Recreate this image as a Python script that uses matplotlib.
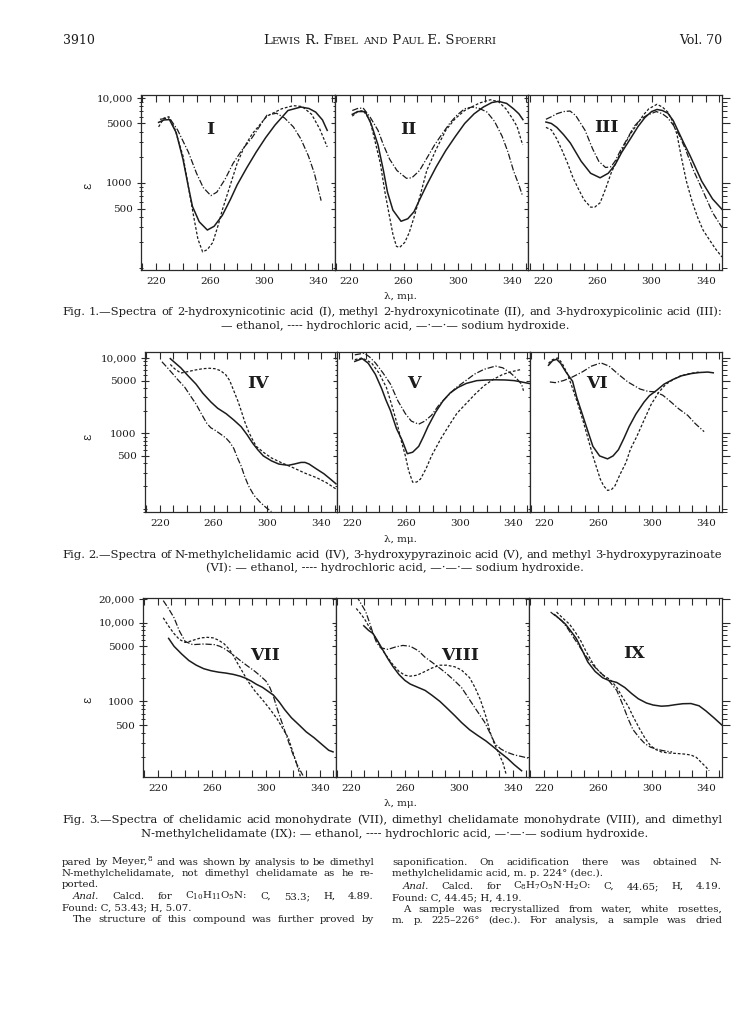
import numpy as np
import matplotlib
matplotlib.use("Agg")
import matplotlib.pyplot as plt
from matplotlib.ticker import FixedLocator, FuncFormatter, LogLocator, MultipleLocator, NullFormatter

plt.rcParams['font.family'] = ['DejaVu Serif']
plt.rcParams['mathtext.fontset'] = 'dejavuserif'

W, H = 748, 1016

# (wavelength in mμ, ε); eth = ethanol, hcl = HCl, naoh = NaOH
I_eth = [(222, 5150), (226, 5500), (230, 5550), (235, 3900), (240, 1900), (244, 900), (247, 530), (252, 350),
         (258, 280), (263, 310), (269, 415), (275, 640), (280, 950), (287, 1500), (294, 2300), (301, 3400),
         (308, 4800), (317.5, 7100), (327, 7800), (333, 7500), (338, 6800), (343, 5500), (346.5, 4150)]
I_hcl = [(222, 4560), (226, 5800), (229.6, 6000), (234, 4300), (240, 2080), (244, 900), (248, 395), (251, 220),
         (254.5, 155), (258, 165), (262, 200), (266, 320), (269, 480), (274, 850), (280, 1700), (285, 2600),
         (291, 3750), (302, 6100), (313, 7450), (321.5, 8100), (328, 7900), (335, 6400), (341, 4300), (346.5, 2650)]
I_naoh = [(223, 5600), (230, 5800), (236, 4200), (244, 2300), (250, 1300), (255, 880), (260.6, 710), (265, 780),
          (271, 1100), (277, 1700), (284, 2500), (291, 3400), (302, 6250), (309, 6600), (315, 5800), (321.5, 4560),
          (327, 3300), (332.6, 2080), (337, 1300), (342, 620)]

II_eth = [(222, 6400), (226, 6900), (231.6, 6900), (236, 4900), (241, 2800), (245, 1400), (248, 780), (252, 480),
          (258, 355), (263, 380), (267.6, 460), (272, 650), (277, 950), (284, 1550), (291, 2400), (298, 3500),
          (305, 5000), (312, 6500), (318.8, 7800), (325, 8800), (330, 9100), (336, 8600), (341, 7450), (345, 6500),
          (348, 5550)]
II_hcl = [(222, 6100), (226, 6900), (230, 7100), (235, 5500), (238, 3500), (242.7, 1700), (246, 800), (249.6, 395),
          (252, 250), (254.6, 180), (257, 175), (260.7, 200), (264, 260), (267.6, 395), (272, 700), (277, 1400),
          (284, 2500), (291, 4150), (298, 5700), (305, 7100), (316, 8700), (324, 9500), (330, 9000), (335.4, 7450),
          (340, 5800), (343.7, 4600), (347.8, 2800)]
II_naoh = [(222, 7100), (226, 7500), (230, 7600), (235, 6000), (241, 4150), (245, 2800), (249.6, 1900), (255, 1400),
           (262, 1135), (266, 1150), (271.7, 1400), (277, 1950), (282.8, 2800), (288, 3700), (293.9, 5000),
           (299, 6200), (305, 7450), (310.5, 7800), (316, 7500), (321.5, 6800), (327, 5300), (332.6, 3550),
           (337, 2300), (341, 1400), (345, 950), (347.8, 700)]

III_eth = [(222, 5200), (226, 5000), (230, 4500), (235, 3700), (240, 2950), (248, 1800), (255, 1300), (262, 1150),
           (268, 1300), (273, 1630), (278, 2300), (284, 3240), (290, 4600), (295, 5850), (300, 6900), (304, 7300),
           (308, 7100), (312, 6600), (316, 5400), (320, 3950), (324, 2900), (328.5, 2080), (333, 1450),
           (337, 1050), (345, 650), (352, 490)]
III_hcl = [(222, 4500), (226, 4200), (230, 3300), (234, 2400), (238, 1700), (242, 1150), (246, 850), (250, 640),
           (255, 520), (258, 520), (262, 585), (266, 850), (270, 1290), (274, 1800), (278.6, 2530), (284, 3700),
           (289.7, 5000), (294, 6300), (298, 7450), (304, 8400), (308, 7800), (312, 6800), (315, 5500),
           (318.7, 3750), (322, 2000), (325.7, 1050), (330, 600), (334, 395), (338, 280), (342.3, 220), (347, 170),
           (352, 135)]
III_naoh = [(222, 5600), (226, 6000), (230, 6500), (235, 6900), (239.8, 7000), (244, 6200), (250.9, 4150),
            (256.4, 2530), (261, 1800), (266, 1520), (270, 1550), (273, 1800), (277, 2400), (282, 3300),
            (287, 4600), (292, 5600), (296.6, 6250), (303.5, 6900), (308, 6500), (311.8, 5850), (316, 4800),
            (320, 3750), (325, 2500), (331, 1400), (338, 800), (345, 450), (352, 300)]

IV_eth = [(227.8, 9800), (235.6, 7400), (241, 5800), (246.9, 4500), (252, 3400), (258, 2600), (263, 2150),
          (269.3, 1820), (275, 1500), (280.5, 1220), (285, 950), (289, 740), (293, 600), (297, 500), (303, 430),
          (308.5, 390), (315.5, 375), (320, 390), (325, 410), (328, 410), (331, 390), (336, 340), (342, 290),
          (347, 245), (351, 213)]
IV_hcl = [(227.8, 8200), (231, 7200), (235.6, 6300), (241, 6600), (246, 6900), (252, 7200), (257, 7300),
          (261, 7200), (265, 6800), (269, 6000), (272, 5000), (275, 3670), (278, 2700), (280.5, 2000), (283, 1450),
          (286, 1050), (289, 820), (291.7, 670), (297, 560), (303, 470), (310, 410), (319.7, 345), (328, 295),
          (336.6, 257), (344, 220), (351, 182)]
IV_naoh = [(221.6, 8900), (226, 7300), (230, 6050), (234, 5000), (238.5, 4100), (243, 3100), (246.9, 2450),
           (251, 1800), (255, 1350), (258, 1180), (261, 1100), (265, 980), (269.3, 860), (272, 760), (275, 630),
           (278, 460), (280.5, 367), (283, 270), (286, 200), (290, 150), (294.5, 122), (299, 103), (303, 91)]

V_eth = [(222, 9000), (227.5, 9800), (232, 8500), (237.3, 6050), (242, 3900), (245, 2800), (248.5, 2000),
         (253, 1150), (257, 820), (261, 535), (265, 560), (269.5, 670), (273, 900), (276.4, 1230), (282, 1900),
         (287.6, 2700), (293, 3450), (298.8, 4070), (305, 4600), (312.7, 5000), (320, 5100), (326.6, 5130),
         (334, 5100), (340.6, 5000), (346, 4800), (351.7, 4580)]
V_hcl = [(222, 9500), (227.4, 10000), (234.4, 8600), (240, 6300), (245.5, 4050), (250, 2200), (254, 1230),
         (256.5, 800), (259.6, 500), (262, 320), (265, 224), (268, 225), (270.8, 246), (275, 340), (279, 500),
         (286, 850), (293, 1350), (298, 1850), (304.5, 2450), (311, 3250), (318, 4270), (325, 5200), (332, 6050),
         (339, 6600), (346, 7060)]
V_naoh = [(222, 11000), (229, 11600), (233, 10300), (237.3, 8600), (243, 6300), (248.5, 4500), (254, 2700),
          (259.6, 1820), (264, 1450), (269.5, 1320), (274, 1450), (279, 1730), (284, 2300), (290, 3000),
          (297, 4000), (304.5, 5000), (311, 6100), (318, 7060), (326.6, 7800), (332, 7400), (337.6, 6350),
          (342, 5400), (346, 4480), (347.4, 3670)]

VI_eth = [(223, 8000), (226, 9200), (229, 9600), (232, 8500), (236, 6500), (240.9, 4900), (244, 3000), (248, 1820),
          (252, 1100), (256, 670), (261, 500), (266.9, 457), (271, 500), (275, 605), (279, 850), (283, 1230),
          (288, 1800), (294, 2590), (298, 3150), (303.5, 3730), (309, 4500), (315.7, 5200), (322, 5800),
          (329, 6200), (335, 6400), (341.4, 6500), (345.5, 6350)]
VI_hcl = [(223, 8500), (226, 9500), (229.8, 10000), (233, 8600), (237, 6200), (241, 3900), (245, 2400),
          (249, 1400), (252, 900), (256, 500), (261.5, 246), (264, 200), (267, 174), (270, 180), (272.4, 200),
          (276, 280), (280.6, 408), (284, 620), (288.7, 910), (294, 1490), (299.5, 2450), (305, 3500),
          (310.3, 4480), (316, 5200), (321, 5770), (328, 6200), (334.6, 6500)]
VI_naoh = [(224, 4800), (228, 4700), (234, 5000), (240, 5500), (248, 6500), (255, 7800), (262, 8600), (268, 7800),
           (275, 6060), (282, 4800), (291, 3870), (297, 3600), (302, 3550), (308, 3200), (313, 2700), (320, 2100),
           (326.5, 1730), (332, 1350), (338.7, 1050)]

VII_eth = [(228, 6300), (232, 5000), (237.6, 4000), (243, 3300), (248.5, 2880), (254, 2600), (259.4, 2450),
           (265, 2350), (270.3, 2290), (276, 2200), (281, 2090), (285, 1970), (289, 1820), (293, 1650),
           (297.5, 1510), (301, 1370), (305.7, 1200), (310, 980), (313.9, 790), (319, 620), (324.8, 500),
           (330, 410), (335.7, 347), (341, 290), (346.6, 240), (349.8, 229)]
VII_hcl = [(224, 11500), (228, 9000), (232, 7240), (236, 6100), (240.3, 5600), (244, 5800), (248.5, 6150),
           (252, 6400), (256.7, 6500), (261, 6400), (264.8, 6000), (269, 5400), (273, 4570), (276, 3800),
           (278.5, 3160), (282, 2500), (286.6, 1820), (292, 1350), (297.5, 1050), (303, 800), (308.4, 600),
           (312, 470), (316.6, 347), (320, 230), (324.8, 126), (326, 105)]
VII_naoh = [(224, 19000), (228, 15000), (232, 11500), (236, 7800), (240.3, 5750), (245.8, 5250), (250, 5300),
            (254, 5350), (258, 5300), (262, 5250), (266, 5000), (270.3, 4570), (275, 4000), (281, 3310),
            (286, 2850), (292, 2400), (296, 2100), (300, 1820), (303, 1500), (305.7, 1150), (308, 850), (311, 600),
            (315, 380), (319, 240), (323, 160), (327.5, 115)]

VIII_eth = [(229.6, 9100), (233, 8000), (236.5, 7240), (240, 5800), (244, 4400), (247.5, 3470), (251, 2800),
            (255.7, 2190), (260, 1850), (264, 1660), (270, 1500), (275, 1380), (280, 1200), (286, 1000), (291, 830),
            (297, 660), (302, 540), (308, 437), (314, 370), (320, 316), (325, 270), (330, 229), (336, 190),
            (341, 158), (346.5, 132)]
VIII_hcl = [(224, 15100), (228, 12500), (231, 10500), (236.5, 7240), (240, 5600), (244.7, 4170), (250, 3100),
            (255.7, 2400), (260, 2150), (264, 2090), (269, 2150), (275, 2400), (280, 2650), (286, 2880),
            (291, 2880), (297, 2750), (302, 2500), (308, 2000), (312, 1500), (316, 1050), (320, 650), (323, 417),
            (326, 300), (328.6, 240), (332.7, 166), (335, 120)]
VIII_naoh = [(224, 22000), (227, 18000), (231, 13800), (234, 9800), (236.5, 7240), (239, 5600), (242, 4790),
             (247.5, 4570), (253, 4900), (258.5, 5130), (264, 5010), (270, 4400), (275, 3630), (280, 3150),
             (286, 2630), (291, 2250), (297, 1820), (302, 1500), (308, 1050), (313, 780), (319, 550), (323, 400),
             (327, 288), (331, 250), (335, 229), (341, 210), (346.5, 200), (352, 190)]

IX_eth = [(228, 12600), (232, 11000), (236, 9550), (240, 7800), (244, 6300), (248, 4600), (252.6, 3160),
          (258, 2400), (263.5, 2000), (268, 1850), (274, 1740), (280, 1500), (285, 1260), (290, 1080), (296, 955),
          (301, 900), (307, 870), (312, 880), (318, 912), (323, 935), (329, 940), (335, 880), (340, 760),
          (346, 620), (352, 500)]
IX_hcl = [(229.4, 13600), (234, 11400), (239, 9550), (243, 7700), (247, 6030), (251, 4400), (256, 3100),
          (260, 2500), (264, 2150), (269, 1900), (274, 1510), (278, 1150), (282.5, 870), (286, 650), (290.7, 457),
          (295, 340), (299, 275), (303, 245), (307, 229), (312, 222), (318, 219), (324, 215), (329, 209),
          (333, 195), (337, 166), (340, 148), (342.5, 132)]
IX_naoh = [(225, 13600), (229, 12000), (233.5, 10500), (237.5, 8500), (241.7, 6600), (247, 4800), (252.6, 3470),
           (258, 2700), (263.5, 2190), (268, 1850), (274, 1380), (278, 950), (282.5, 600), (286, 440),
           (290.7, 347), (295, 290), (299, 263), (303, 250), (307, 240), (311, 233), (315, 229)]

panel_names = ["I", "II", "III", "IV", "V", "VI", "VII", "VIII", "IX"]
x_ticklabels = [220, 260, 300, 340]
y_ticks_12 = [500, 1000, 5000, 10000]
y_ticks_3 = [500, 1000, 5000, 10000, 20000]

STYLES = {
    'eth': dict(ls='-', lw=1.1),
    'hcl': dict(ls=(0, (2.2, 1.5)), lw=0.9),
    'naoh': dict(ls=(0, (5, 1.5, 1, 1.5)), lw=0.9),
}
INK = '#1c1c1c'

fig = plt.figure(figsize=(W / 100, H / 100), dpi=100)
renderer = fig.canvas.get_renderer()


def ftext(x, y, s, **kw):
    kw.setdefault('color', INK)
    return fig.text(x / W, 1 - y / H, s, **kw)


def runs(x, y, parts, ha='left', **kw):
    # draw consecutive pieces of text (each with its own size/style) on one baseline
    arts = [ftext(0, y, s, va='baseline', **{**kw, **p}) for s, p in parts]
    widths = [a.get_window_extent(renderer).width for a in arts]
    if ha == 'center':
        x = x - sum(widths) / 2
    for a, w in zip(arts, widths):
        a.set_x(x / W)
        x += w


def natural_size(x0, x1, line, base=8.0):
    # font size at which the line, set with ordinary spaces, fills x0..x1
    t = ftext(0, 0, line, fontsize=base)
    w = t.get_window_extent(renderer).width
    t.remove()
    return base * (x1 - x0) / w


def justify(x0, x1, y, line, size, italic=("Anal.",)):
    words = line.split()
    arts = [ftext(0, y, w, va='baseline', fontsize=size,
                  style='italic' if w in italic else 'normal') for w in words]
    widths = [a.get_window_extent(renderer).width for a in arts]
    gap = (x1 - x0 - sum(widths)) / max(len(words) - 1, 1)
    x = x0
    for a, w in zip(arts, widths):
        a.set_x(x / W)
        x += w + gap


def smallcaps(s, big, small):
    parts = []
    for ch in s:
        size = big if (ch.isupper() or not ch.isalpha()) else small
        if parts and parts[-1][1]['fontsize'] == size:
            parts[-1] = (parts[-1][0] + ch.upper(), parts[-1][1])
        else:
            parts.append((ch.upper(), dict(fontsize=size)))
    return parts


def y_fmt(v, _):
    return f"{int(v):,}" if v >= 10000 else f"{int(v)}"


def make_row(x0, x1, y0, y1, ylim, yticks, curves, names, label_pos):
    pw = (x1 - x0) / 3
    axes = []
    for i in range(3):
        ax = fig.add_axes([(x0 + i * pw) / W, 1 - y1 / H, pw / W, (y1 - y0) / H])
        ax.set_yscale('log')
        ax.set_xlim(209, 352)
        ax.set_ylim(*ylim)
        for key, pts in zip(('eth', 'hcl', 'naoh'), curves[i]):
            wl, eps = zip(*pts)
            ax.plot(wl, eps, color=INK, **STYLES[key])
        for sp in ax.spines.values():
            sp.set_linewidth(0.9)
            sp.set_color('#2a2a2a')
        ax.xaxis.set_major_locator(FixedLocator(x_ticklabels))
        ax.xaxis.set_minor_locator(MultipleLocator(10))
        ax.tick_params(axis='x', which='both', direction='in', top=True, bottom=True,
                       length=5, width=0.8, color='#2a2a2a', labelsize=7.5, pad=5, labelcolor=INK)
        ax.yaxis.set_major_locator(FixedLocator(yticks))
        ax.yaxis.set_major_formatter(FuncFormatter(y_fmt))
        ax.yaxis.set_minor_locator(LogLocator(base=10, subs=np.arange(1, 10)))
        ax.yaxis.set_minor_formatter(NullFormatter())
        ax.tick_params(axis='y', which='major', length=6, width=0.8, color='#2a2a2a', labelsize=7.5,
                       pad=3, labelcolor=INK)
        ax.tick_params(axis='y', which='minor', length=3.5, width=0.7, color='#2a2a2a')
        if i == 0:
            ax.tick_params(axis='y', which='both', left=True, labelleft=True, direction='in')
        else:
            ax.tick_params(axis='y', which='both', left=False, labelleft=False)
        if i < 2:
            ax.tick_params(axis='y', which='both', right=True, direction='inout')
        else:
            ax.tick_params(axis='y', which='both', right=True)
        lx, ly = label_pos[i]
        ftext(lx, ly, names[i], fontsize=12.5, fontweight='bold', ha='center', va='center')
        axes.append(ax)
    return axes


# header
ftext(63, 44, "3910", fontsize=9, va='baseline')
runs(380, 44, smallcaps("Lewis R. Fibel and Paul E. Spoerri", 9.5, 7.4), ha='center')
ftext(722, 44, "Vol. 70", fontsize=9, va='baseline', ha='right')

make_row(141, 722, 95, 270, (95, 10800), y_ticks_12,
         [(I_eth, I_hcl, I_naoh), (II_eth, II_hcl, II_naoh), (III_eth, III_hcl, III_naoh)],
         panel_names[0:3], [(210, 129), (408, 129), (606, 127)])
make_row(145, 722, 352, 512, (90, 12000), y_ticks_12,
         [(IV_eth, IV_hcl, IV_naoh), (V_eth, V_hcl, V_naoh), (VI_eth, VI_hcl, VI_naoh)],
         panel_names[3:6], [(258, 383), (414, 383), (597, 383)])
make_row(143, 722, 598, 777, (110, 20500), y_ticks_3,
         [(VII_eth, VII_hcl, VII_naoh), (VIII_eth, VIII_hcl, VIII_naoh), (IX_eth, IX_hcl, IX_naoh)],
         panel_names[6:9], [(265, 655), (460, 655), (634, 654)])

# ε axis labels and λ labels
for yy in (186, 437, 700):
    ftext(88, yy, "ε", fontsize=8.5, rotation=90, ha='center', va='center')
for yy in (297, 540, 804):
    ftext(400, yy, "λ, mμ.", fontsize=7.5, ha='center', va='center')

legend_line = "— ethanol, ---- hydrochloric acid, —·—·— sodium hydroxide."
cap1 = ("Fig. 1.—Spectra of 2-hydroxynicotinic acid (I), methyl 2-hydroxynicotinate (II), "
        "and 3-hydroxypicolinic acid (III):")
cap2 = ("Fig. 2.—Spectra of N-methylchelidamic acid (IV), 3-hydroxypyrazinoic acid (V), "
        "and methyl 3-hydroxypyrazinoate")
cap3 = ("Fig. 3.—Spectra of chelidamic acid monohydrate (VII), dimethyl chelidamate "
        "monohydrate (VIII), and dimethyl")
CAP = min(natural_size(62, 722, c) for c in (cap1, cap2, cap3))
justify(62, 722, 315, cap1, CAP)
ftext(395, 329, legend_line, fontsize=CAP, ha='center', va='baseline')
justify(62, 722, 558, cap2, CAP)
ftext(395, 571, "(VI): " + legend_line, fontsize=CAP, ha='center', va='baseline')
justify(62, 722, 823, cap3, CAP)
ftext(395, 837, "N-methylchelidamate (IX): " + legend_line, fontsize=CAP, ha='center', va='baseline')

# body text, two columns
lx0, lx1, rx0, rx1 = 62, 374, 392, 722
left_full = [r"pared by Meyer,$^{8}$ and was shown by analysis to be dimethyl",
             "N-methylchelidamate, not dimethyl chelidamate as he re-"]
right_full = ["saponification. On acidification there was obtained N-",
              "m. p. 225–226° (dec.). For analysis, a sample was dried"]
BODY = min([natural_size(lx0, lx1, s) for s in left_full] + [natural_size(rx0, rx1, s) for s in right_full])
justify(lx0, lx1, 865, left_full[0], BODY)
justify(lx0, lx1, 876, left_full[1], BODY)
ftext(lx0, 887, "ported.", fontsize=BODY, va='baseline')
justify(lx0 + 11, lx1, 899, r"Anal.  Calcd. for C$_{10}$H$_{11}$O$_{5}$N:  C, 53.3;  H, 4.89.", BODY)
ftext(lx0, 910, "Found: C, 53.43; H, 5.07.", fontsize=BODY, va='baseline')
justify(lx0 + 11, lx1, 922, "The structure of this compound was further proved by", BODY)

justify(rx0, rx1, 865, right_full[0], BODY)
ftext(rx0, 876, "methylchelidamic acid, m. p. 224° (dec.).", fontsize=BODY, va='baseline')
justify(rx0 + 11, rx1, 889, r"Anal.  Calcd. for C$_{8}$H$_{7}$O$_{5}$N·H$_{2}$O:  C, 44.65;  H, 4.19.", BODY)
ftext(rx0, 900, "Found: C, 44.45; H, 4.19.", fontsize=BODY, va='baseline')
justify(rx0 + 11, rx1, 912, "A sample was recrystallized from water, white rosettes,", BODY)
justify(rx0, rx1, 923, right_full[1], BODY)

fig.savefig("out.png", dpi=100)
